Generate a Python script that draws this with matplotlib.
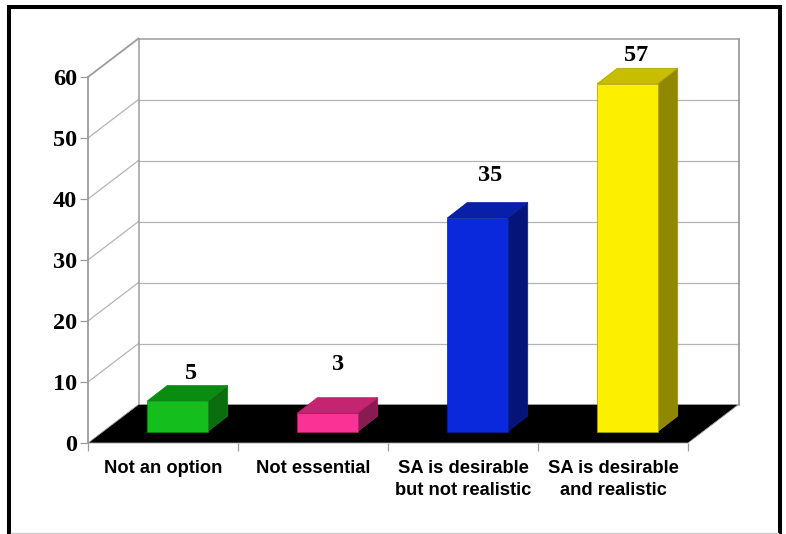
import matplotlib
matplotlib.use('Agg')
import matplotlib.pyplot as plt
from matplotlib.patches import Polygon, Rectangle
from matplotlib.lines import Line2D

categories = ['Not an option', 'Not essential', 'SA is desirable\nbut not realistic', 'SA is desirable\nand realistic']
values = [5, 3, 35, 57]
y_ticks = [0, 10, 20, 30, 40, 50, 60]

# front, top, side shades of each bar
front_colors = ['#14BE1C', '#FA3296', '#0A28DC', '#FCF000']
top_colors = ['#0A8C10', '#C42470', '#0820A8', '#C8BE00']
side_colors = ['#0A6E0E', '#8A1A52', '#041478', '#908800']
edge_colors = ['#0C8A12', '#B02068', '#081E9C', '#A89E00']

W, H = 786, 534
PX_X = 150.0      # pixels per category
PX_Y = 6.1        # pixels per value unit

fig = plt.figure(figsize=(W / 100, H / 100), dpi=100)
fig.patch.set_facecolor('white')
ax = fig.add_axes([88 / W, 1 - 443 / H, 600 / W, 366 / H])
ax.set_xlim(0, 4)
ax.set_ylim(0, 60)
ax.patch.set_visible(False)
for s in ax.spines.values():
    s.set_visible(False)

# depth of the box, in data units
depth_x = 50.5 / PX_X
depth_y = 38.5 / PX_Y
# the bars sit a little way in on the floor and have their own depth
base_x = 14.5 / PX_X
base_y = 11.5 / PX_Y
bar_dx = 20 / PX_X
bar_dy = 15.5 / PX_Y
bar_w = 60.5 / PX_X
# where each number floats over its bar, there is no rule to it in the original
label_lift = [4.5, 8.0, 7.0, 4.6]
label_shift = [14, 11, 13, 9]

GRID = '#B4B4B4'
WALL = '#9C9C9C'

# grid on back wall and left wall
for t in y_ticks[1:-1]:
    ax.plot([depth_x, 4 + depth_x], [t + depth_y, t + depth_y], color=GRID, lw=0.9, clip_on=False, zorder=1)
    ax.plot([0, depth_x], [t, t + depth_y], color=GRID, lw=0.9, clip_on=False, zorder=1)

# wall outline
ax.plot([0, 0], [0, 60], color=WALL, lw=1.3, clip_on=False, zorder=1)
ax.plot([0, depth_x], [60, 60 + depth_y], color=WALL, lw=1.3, clip_on=False, zorder=1)
ax.plot([depth_x, depth_x], [depth_y, 60 + depth_y], color=WALL, lw=1.1, clip_on=False, zorder=1)
ax.plot([depth_x, 4 + depth_x], [60 + depth_y, 60 + depth_y], color=WALL, lw=1.1, clip_on=False, zorder=1)
ax.plot([4 + depth_x, 4 + depth_x], [depth_y, 60 + depth_y], color=WALL, lw=1.3, clip_on=False, zorder=1)

# floor
ax.add_patch(Polygon([(0, 0), (4, 0), (4 + depth_x, depth_y), (depth_x, depth_y)],
                     closed=True, facecolor='black', edgecolor='#A0A0A0', lw=0.6, clip_on=False, zorder=2))

# bars
for i, v in enumerate(values):
    x0 = i + (1 - bar_w) / 2 + base_x
    x1 = x0 + bar_w
    y0 = base_y
    y1 = base_y + v
    ax.add_patch(Polygon([(x1, y0), (x1 + bar_dx, y0 + bar_dy), (x1 + bar_dx, y1 + bar_dy), (x1, y1)],
                         closed=True, facecolor=side_colors[i], edgecolor=edge_colors[i], lw=0.5, clip_on=False, zorder=3))
    ax.add_patch(Polygon([(x0, y1), (x1, y1), (x1 + bar_dx, y1 + bar_dy), (x0 + bar_dx, y1 + bar_dy)],
                         closed=True, facecolor=top_colors[i], edgecolor=edge_colors[i], lw=0.5, clip_on=False, zorder=3))
    ax.add_patch(Rectangle((x0, y0), bar_w, y1 - y0, facecolor=front_colors[i], edgecolor=edge_colors[i], lw=0.5,
                           clip_on=False, zorder=4))
    ax.text(x0 + bar_w / 2 + label_shift[i] / PX_X, y1 + label_lift[i], str(v), ha='center', va='center',
            family='Liberation Serif', fontweight='bold', fontsize=17.5, color='black', zorder=5, clip_on=False)

# ticks
ax.set_yticks(y_ticks)
ax.set_yticklabels([str(t) for t in y_ticks], family='Liberation Serif', fontweight='bold', fontsize=17.5)
ax.tick_params(axis='y', length=6, width=0.9, color=WALL, pad=2)
ax.set_xticks([0, 1, 2, 3, 4])
ax.set_xticklabels([])
ax.tick_params(axis='x', which='major', length=6, width=0.9, color=WALL)
ax.set_xticks([0.5, 1.5, 2.5, 3.5], minor=True)
ax.set_xticklabels(categories, minor=True, family='Liberation Sans', fontweight='bold', fontsize=13.2, linespacing=1.4)
ax.tick_params(axis='x', which='minor', length=0, pad=12)

# heavy frame round the whole picture, bottom runs off the image
fig.add_artist(Rectangle((9 / W, 1 - 545 / H), 771 / W, 538 / H, transform=fig.transFigure,
                         facecolor='none', edgecolor='black', lw=2.9, joinstyle='miter'))
fig.add_artist(Line2D([11 / W, 778 / W], [1 - 533.3 / H, 1 - 533.3 / H], transform=fig.transFigure, color='#D0D0D0', lw=1))

fig.savefig('out.png', dpi=100)
